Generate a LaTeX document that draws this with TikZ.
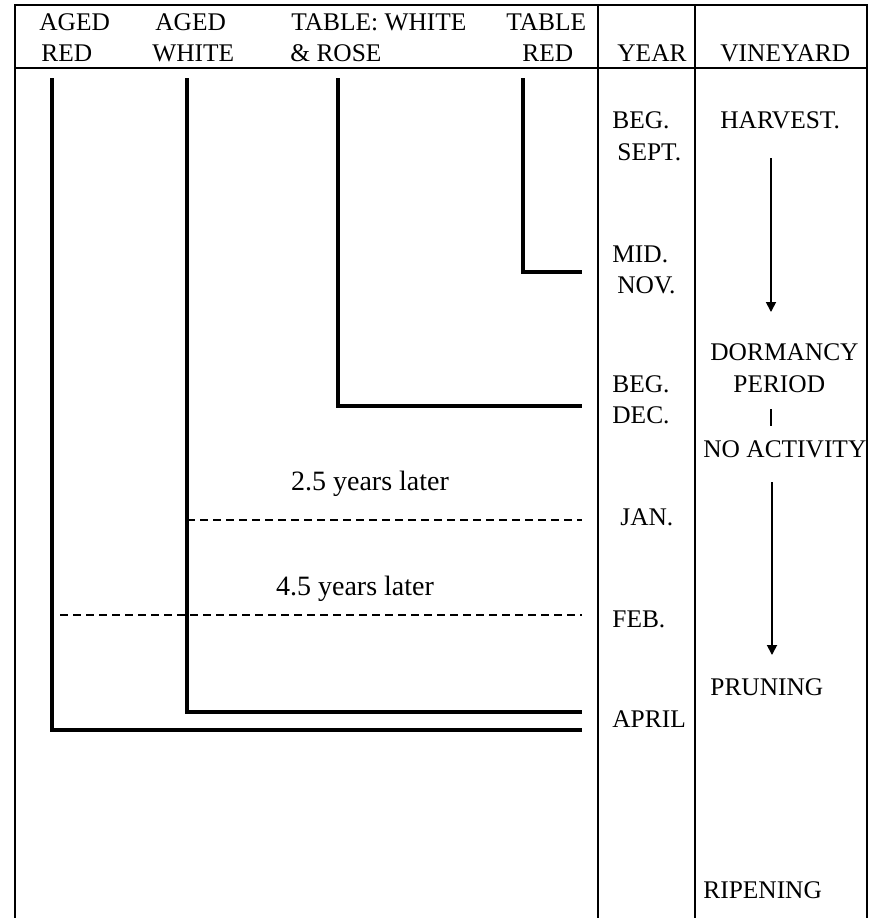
\documentclass[tikz,border=0pt]{standalone}
\usepackage{fontspec}
\setmainfont{Liberation Serif}
\usetikzlibrary{arrows.meta}
\begin{document}
\begin{tikzpicture}[x=0.5pt,y=-0.5pt,
  frame/.style={line width=0.8pt},
  bar/.style={line width=2pt, line join=miter},
  dashline/.style={line width=0.6pt, dash pattern=on 4pt off 2.5pt},
  lbl/.style={inner sep=0pt, anchor=base west, font=\fontsize{12.7}{15}\selectfont},
  yrs/.style={inner sep=0pt, anchor=base, font=\fontsize{14}{16}\selectfont},
  arr/.style={line width=0.9pt, -{Triangle[length=5pt,width=5pt]}}]
\useasboundingbox (0,0) rectangle (870,918);
\fill[white] (0,0) rectangle (870,918);
% frame
\draw[frame] (15,918) -- (15,5) -- (867,5) -- (867,918);
\draw[frame] (15,68) -- (867,68);
\draw[frame] (598,5) -- (598,918);
\draw[frame] (695,5) -- (695,918);
% header
\node[lbl] (h1a) at (39,30) {AGED};
\node[lbl] (h1b) at (41,61) {RED};
\node[lbl] (h2a) at (155,30) {AGED};
\node[lbl] (h2b) at (152,61) {WHITE};
\node[lbl] (h3a) at (291,30) {TABLE: WHITE};
\node[lbl] (h3b) at (290,61) {\& ROSE};
\node[lbl] (h4a) at (506,30) {TABLE};
\node[lbl] (h4b) at (522,61) {RED};
\node[lbl] (h5) at (617,61) {YEAR};
\node[lbl] (h6) at (720,61) {VINEYARD};
% timeline bars
\coordinate (ar0) at (52,78);  \coordinate (ar1) at (582,730);
\coordinate (aw0) at (187,78); \coordinate (aw1) at (582,712);
\coordinate (tw0) at (338,78); \coordinate (tw1) at (582,406);
\coordinate (tr0) at (523,78); \coordinate (tr1) at (582,272);
\draw[bar] (ar0) |- (ar1);
\draw[bar] (aw0) |- (aw1);
\draw[bar] (tw0) |- (tw1);
\draw[bar] (tr0) |- (tr1);
% dashed lines
\coordinate (d1a) at (187,520); \coordinate (d1b) at (582,520);
\coordinate (d2a) at (60,615);  \coordinate (d2b) at (582,615);
\draw[dashline] (d1a) -- (d1b);
\draw[dashline] (d2a) -- (d2b);
\node[yrs] (y25) at (370,490) {2.5 years later};
\node[yrs] (y45) at (355,595) {4.5 years later};
% year column
\node[lbl] (begs) at (612,128) {BEG.};
\node[lbl] (sept) at (617,160) {SEPT.};
\node[lbl] (mid) at (612,262) {MID.};
\node[lbl] (nov) at (617,293) {NOV.};
\node[lbl] (begd) at (612,392) {BEG.};
\node[lbl] (dec) at (612,423) {DEC.};
\node[lbl] (jan) at (620,525) {JAN.};
\node[lbl] (feb) at (612,627) {FEB.};
\node[lbl] (apr) at (612,727) {APRIL};
% vineyard column
\node[lbl] (harv) at (720,128) {HARVEST.};
\node[lbl] (dorm) at (710,360) {DORMANCY};
\node[lbl] (peri) at (733,392) {PERIOD};
\node[lbl] (noact) at (703,457) {NO ACTIVITY};
\node[lbl] (prun) at (710,695) {PRUNING};
\node[lbl] (ripe) at (703,898) {RIPENING};
\coordinate (a1s) at (771,158); \coordinate (a1e) at (771,312);
\coordinate (a2s) at (772,482); \coordinate (a2e) at (772,655);
\draw[arr] (a1s) -- (a1e);
\draw[arr] (a2s) -- (a2e);
\coordinate (v1) at (771,409); \coordinate (v2) at (771,426);
\draw[line width=0.9pt] (v1) -- (v2);
\end{tikzpicture}
\end{document}
